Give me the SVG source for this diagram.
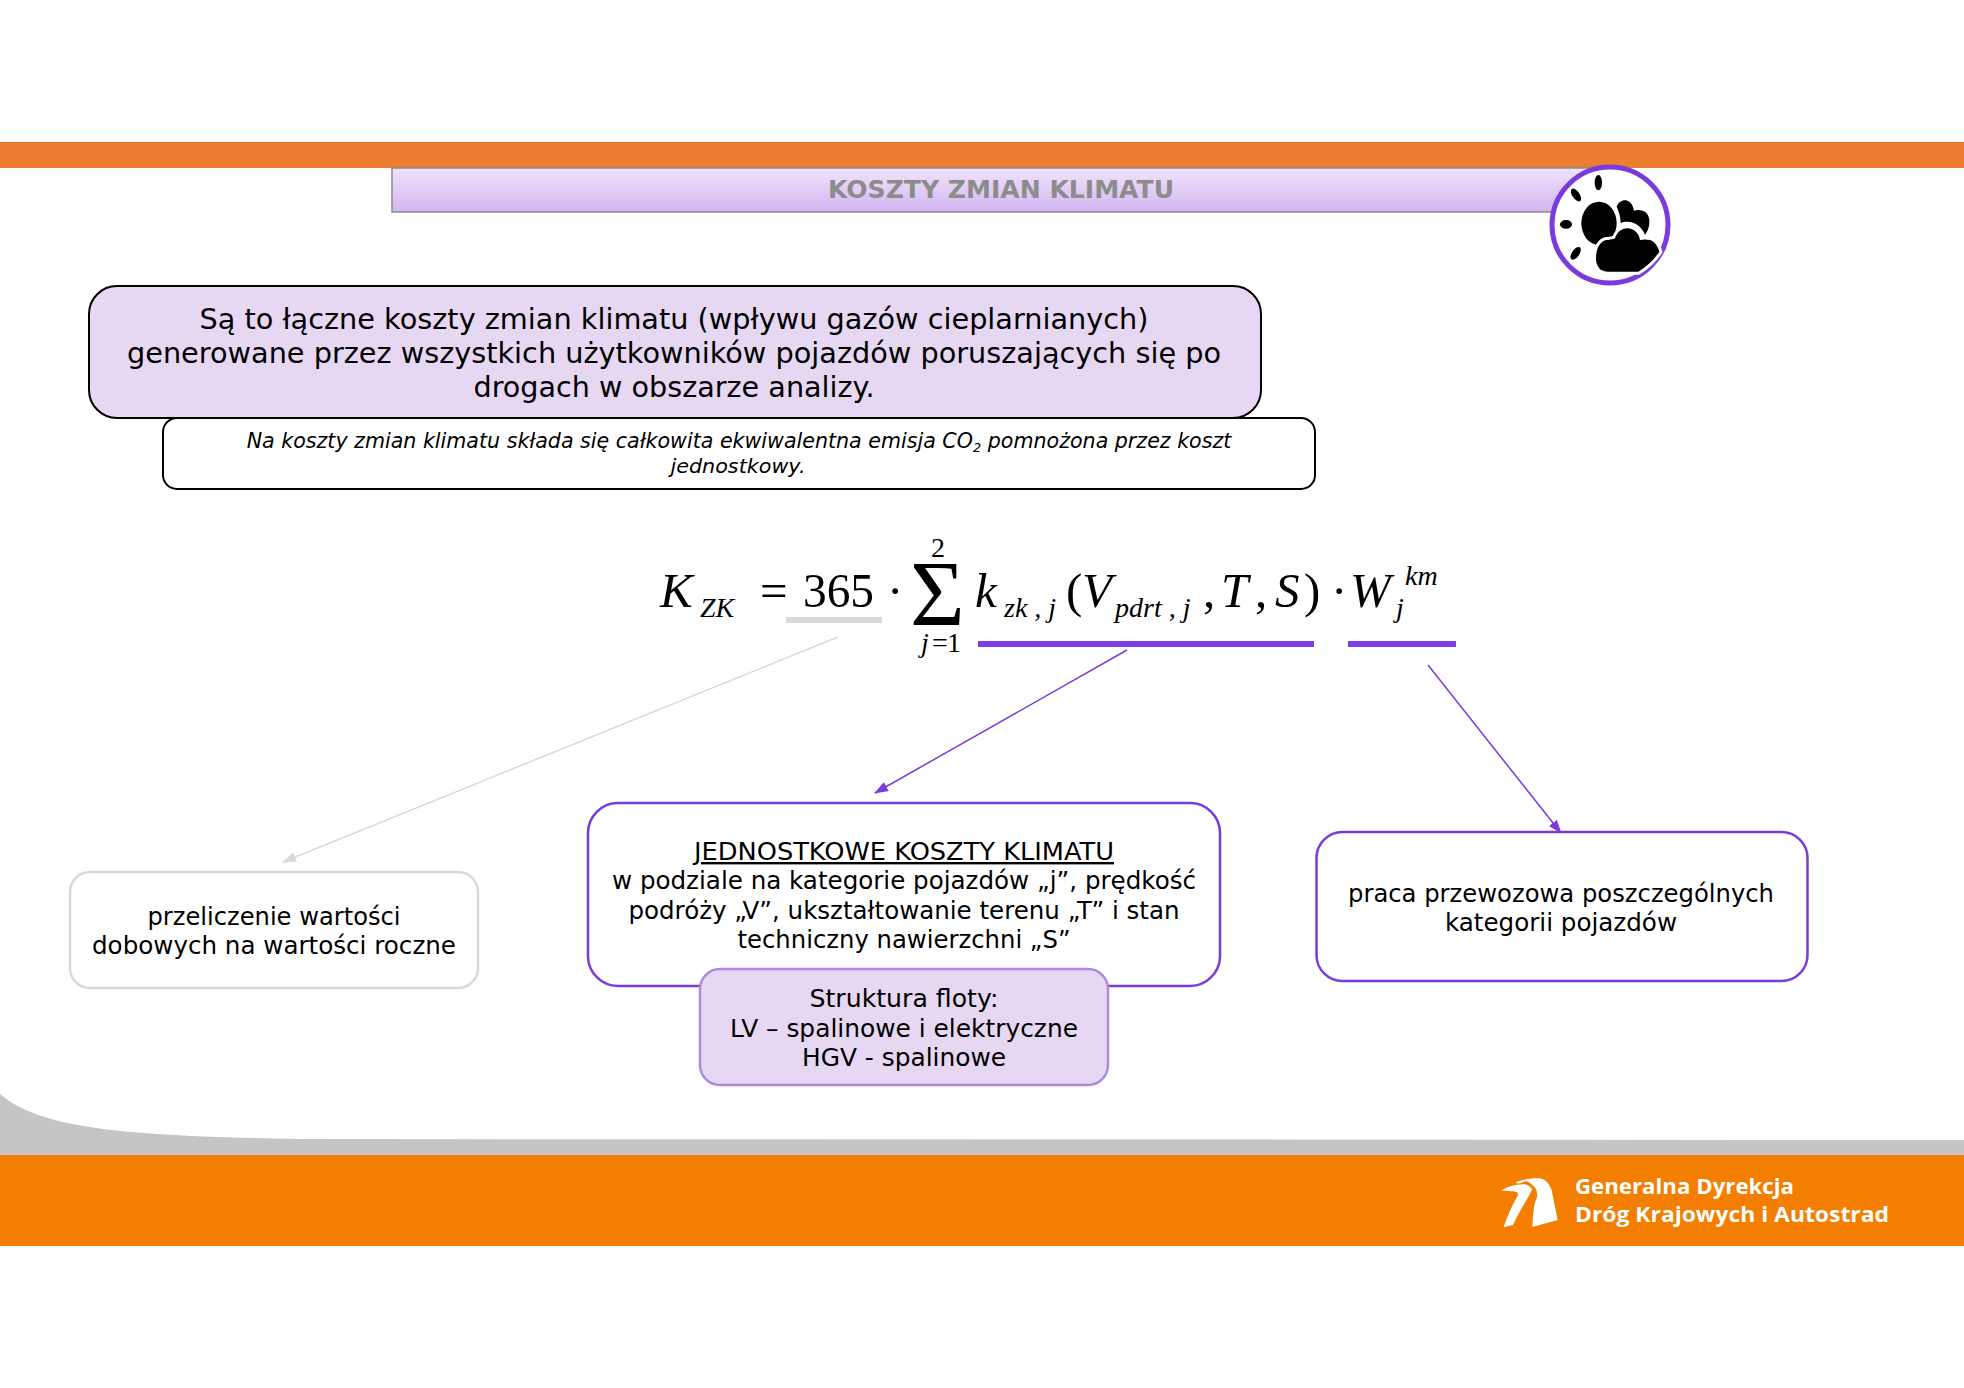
<svg xmlns="http://www.w3.org/2000/svg" width="1964" height="1388" viewBox="0 0 1964 1388">
<defs>
<linearGradient id="tg" x1="0" y1="0" x2="0" y2="1"><stop offset="0" stop-color="#F0E4FA"/><stop offset="1" stop-color="#D2B5F1"/></linearGradient>
<marker id="ap" markerWidth="14" markerHeight="12" refX="13" refY="5" orient="auto" markerUnits="userSpaceOnUse"><path d="M0 0L14 5L0 10Z" fill="#7A3BDC"/></marker>
<marker id="ag" markerWidth="14" markerHeight="12" refX="13" refY="5" orient="auto" markerUnits="userSpaceOnUse"><path d="M0 0L14 5L0 10Z" fill="#D9D9D9"/></marker>
</defs>
<style>
text{font-family:"DejaVu Sans",Verdana,sans-serif;fill:#000;text-anchor:middle}
.t28{font-size:28px}
.t24{font-size:24px}
.i{font-size:20px;font-style:italic}
.m{font-family:"Liberation Serif","Times New Roman",serif;font-size:49px;text-anchor:start}
.mi{font-family:"Liberation Serif","Times New Roman",serif;font-size:49px;font-style:italic;text-anchor:start}
.s{font-family:"Liberation Serif","Times New Roman",serif;font-size:28px;font-style:italic;text-anchor:start}
.f{font-family:"Open Sans","Noto Sans",sans-serif;font-size:22px;font-weight:700;fill:#fff;text-anchor:start}
.bar{fill:#7E3FDE}
</style>
<rect width="1964" height="1388" fill="#fff"/>
<g id="header">
<rect x="0" y="142" width="1964" height="26" fill="#ED7D31"/>
<rect x="392" y="168" width="1220" height="44" fill="url(#tg)" stroke="#8A8A8A" stroke-width="1.5"/>
<text x="1001" y="198" style="font-size:24px;font-weight:700;fill:#8C8C8C" textLength="346" lengthAdjust="spacingAndGlyphs">KOSZTY ZMIAN KLIMATU</text>
</g>
<g id="icon">
<circle cx="1610" cy="225" r="58" fill="#fff" stroke="#7A3BDC" stroke-width="5"/>
<g transform="translate(1550 160) scale(0.3333)">
<ellipse cx="145" cy="68" rx="11" ry="23"/>
<ellipse cx="78" cy="105" rx="11" ry="22" transform="rotate(-35 78 105)"/>
<ellipse cx="48" cy="193" rx="18" ry="13"/>
<ellipse cx="77" cy="280" rx="11" ry="22" transform="rotate(35 77 280)"/>
<ellipse cx="147" cy="190" rx="53" ry="65"/>
<path d="M200 140C205 125 220 118 232 122C245 127 250 140 252 152C265 148 280 150 290 160C303 175 300 205 285 225C278 205 260 185 232 185C220 185 213 187 212 190C212 170 205 150 200 140Z"/>
<path d="M172 335C150 335 138 318 138 295C138 265 150 243 170 240C180 239 190 238 195 235C200 218 215 205 232 205C252 205 268 222 270 240C280 238 290 238 300 240C315 244 324 260 328 275C312 300 290 320 265 335Z" stroke="#fff" stroke-width="18" paint-order="stroke"/>
</g>
</g>
<g id="box-definicja">
<rect x="89" y="286" width="1172" height="132" rx="28" fill="#E6D7F2" stroke="#000" stroke-width="2"/>
<text class="t28" x="674" y="329" textLength="949" lengthAdjust="spacingAndGlyphs">Są to łączne koszty zmian klimatu (wpływu gazów cieplarnianych)</text>
<text class="t28" x="674" y="363" textLength="1094" lengthAdjust="spacingAndGlyphs">generowane przez wszystkich użytkowników pojazdów poruszających się po</text>
<text class="t28" x="674" y="397" textLength="401" lengthAdjust="spacingAndGlyphs">drogach w obszarze analizy.</text>
</g>
<g id="box-opis">
<rect x="163" y="418" width="1152" height="71" rx="14" fill="#fff" stroke="#000" stroke-width="2"/>
<text class="i" x="739" y="448" style="font-size:20.6px">Na koszty zmian klimatu składa się całkowita ekwiwalentna emisja CO<tspan font-size="13" dy="4">2</tspan><tspan dy="-4"> pomnożona przez koszt</tspan></text>
<text class="i" x="738" y="473" textLength="135" lengthAdjust="spacingAndGlyphs">jednostkowy.</text>
</g>
<g id="formula">
<text class="mi" x="660" y="607">K</text>
<text class="s" x="700" y="617">ZK</text>
<text class="m" x="760" y="607">=</text>
<text class="m" x="803" y="607" textLength="71" lengthAdjust="spacingAndGlyphs">365</text>
<text class="m" x="887" y="607">·</text>
<text class="m" x="910" y="625" style="font-size:94px">Σ</text>
<text class="s" x="931" y="557" style="font-style:normal">2</text>
<text class="s" x="921" y="652">j</text>
<text class="s" x="932" y="652" style="font-style:normal">=</text>
<text class="s" x="947" y="652" style="font-style:normal">1</text>
<text class="mi" x="975" y="607">k</text>
<text class="s" x="1004" y="617">zk , j</text>
<text class="m" x="1066" y="607">(</text>
<text class="mi" x="1082" y="607">V</text>
<text class="s" x="1115" y="617">pdrt , j</text>
<text class="m" x="1203" y="607">,</text>
<text class="mi" x="1221" y="607">T</text>
<text class="m" x="1255" y="607">,</text>
<text class="mi" x="1275" y="607">S</text>
<text class="m" x="1304" y="607">)</text>
<text class="m" x="1331" y="607">·</text>
<text class="mi" x="1350" y="607">W</text>
<text class="s" x="1405" y="585">km</text>
<text class="s" x="1396" y="617">j</text>
<rect x="786" y="617" width="96" height="6" fill="#D9D9D9"/>
<rect class="bar" x="978" y="641" width="336" height="6"/>
<rect class="bar" x="1348" y="641" width="108" height="6"/>
</g>
<g id="connectors" fill="none">
<line x1="838" y1="637" x2="283" y2="862" stroke="#D9D9D9" stroke-width="1.5" marker-end="url(#ag)"/>
<line x1="1127" y1="650" x2="875" y2="793" stroke="#7A3BDC" stroke-width="1.5" marker-end="url(#ap)"/>
<line x1="1428" y1="665" x2="1561" y2="833" stroke="#7A3BDC" stroke-width="1.5" marker-end="url(#ap)"/>
</g>
<g id="box-przeliczenie">
<rect x="70" y="872" width="408" height="116" rx="20" fill="#fff" stroke="#D9D9D9" stroke-width="2.5"/>
<text class="t24" x="274" y="925" textLength="253" lengthAdjust="spacingAndGlyphs">przeliczenie wartości</text>
<text class="t24" x="274" y="954" textLength="364" lengthAdjust="spacingAndGlyphs">dobowych na wartości roczne</text>
</g>
<g id="box-jednostkowe">
<rect x="588" y="803" width="632" height="183" rx="30" fill="#fff" stroke="#7A3BDC" stroke-width="2.5"/>
<text class="t24" x="904" y="860" text-decoration="underline" textLength="420" lengthAdjust="spacingAndGlyphs">JEDNOSTKOWE KOSZTY KLIMATU</text>
<text class="t24" x="904" y="889" textLength="584" lengthAdjust="spacingAndGlyphs">w podziale na kategorie pojazdów „j”, prędkość</text>
<text class="t24" x="904" y="919" textLength="551" lengthAdjust="spacingAndGlyphs">podróży „V”, ukształtowanie terenu „T” i stan</text>
<text class="t24" x="904" y="948" textLength="333" lengthAdjust="spacingAndGlyphs">techniczny nawierzchni „S”</text>
</g>
<g id="box-struktura">
<rect x="700" y="969" width="408" height="116" rx="20" fill="#E6D7F2" stroke="#B088DC" stroke-width="2.5"/>
<text class="t24" x="904" y="1007" textLength="189" lengthAdjust="spacingAndGlyphs">Struktura floty:</text>
<text class="t24" x="904" y="1037" textLength="348" lengthAdjust="spacingAndGlyphs">LV – spalinowe i elektryczne</text>
<text class="t24" x="904" y="1066" textLength="204" lengthAdjust="spacingAndGlyphs">HGV - spalinowe</text>
</g>
<g id="box-praca">
<rect x="1316.5" y="832" width="491" height="149" rx="26" fill="#fff" stroke="#7A3BDC" stroke-width="2.5"/>
<text class="t24" x="1561" y="902" textLength="426" lengthAdjust="spacingAndGlyphs">praca przewozowa poszczególnych</text>
<text class="t24" x="1561" y="931" textLength="232" lengthAdjust="spacingAndGlyphs">kategorii pojazdów</text>
</g>
<g id="footer">
<path d="M0 1094C40 1128 120 1136 300 1139L1964 1140V1156H0Z" fill="#C4C6C5"/>
<rect x="0" y="1155" width="1964" height="91" fill="#F37E00"/>
<g transform="translate(1495 1170) scale(0.3333)" fill="#fff">
<path d="M62 38C80 28 120 22 140 26C155 30 165 45 170 60L188 150L112 171C114 140 115 105 125 85C130 70 125 55 112 45C105 38 95 30 85 36C78 40 70 42 62 38Z"/>
<path d="M18 62C35 50 60 44 85 43C95 43 103 46 112 58C100 85 72 125 54 165L26 172C36 140 52 105 68 78C70 70 68 66 62 65C50 63 35 62 18 62Z"/>
</g>
<text class="f" x="1575" y="1194" textLength="219" lengthAdjust="spacingAndGlyphs">Generalna Dyrekcja</text>
<text class="f" x="1575" y="1222" textLength="314" lengthAdjust="spacingAndGlyphs">Dróg Krajowych i Autostrad</text>
</g>
</svg>
